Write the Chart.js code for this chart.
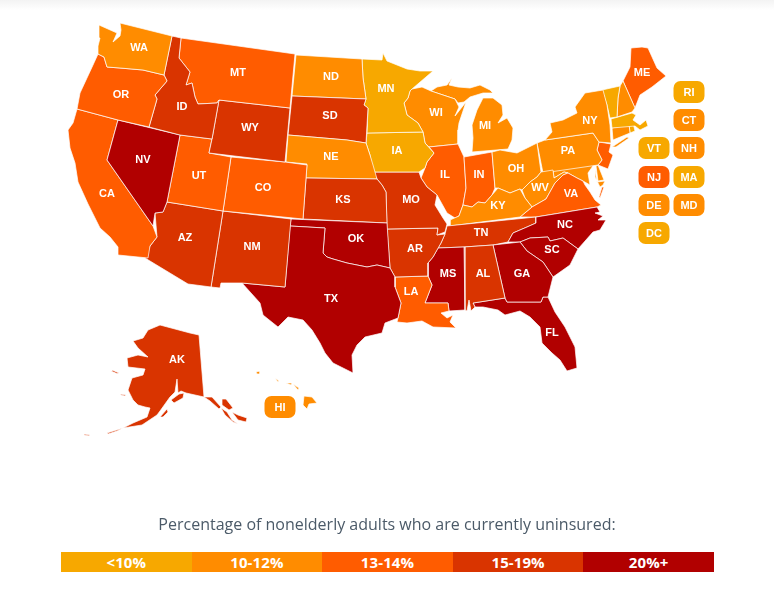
<!DOCTYPE html>
<html>
<head>
<meta charset="utf-8">
<title>Uninsured nonelderly adults</title>
<script src="https://cdn.jsdelivr.net/npm/chart.js@4"></script>
<style>
    html, body { margin: 0; padding: 0; background: #fff; }
    #page { position: relative; width: 774px; height: 592px; overflow: hidden; }
    #shade { position: absolute; left: 0; top: 0; width: 774px; height: 10px; background: linear-gradient(#f3f3f3, #fff); }
    #map { position: absolute; left: 0; top: 0; }
    #heading { position: absolute; left: 0; width: 774px; top: 513px; text-align: center; font: 16px "Open Sans", sans-serif; color: #4b5a68; }
    #legend { position: absolute; left: 61px; top: 552px; width: 653px; height: 20px; display: flex; }
    #legend div { flex: 1; text-align: center; color: #fff; font: bold 15px/20px "Open Sans", sans-serif; letter-spacing: 0.1px; }
</style>
</head>
<body>
<div id="page">
    <div id="shade"></div>
    <canvas id="map" width="774" height="592"></canvas>
    <div id="heading">Percentage of nonelderly adults who are currently uninsured:</div>
    <div id="legend"></div>
</div>
<script>
/* tiers */
const tierLabels = ['<10%', '10-12%', '13-14%', '15-19%', '20%+'];
const tierColors = ['#f7a800', '#ff8c00', '#ff5c00', '#d93400', '#b10000'];
const tier0 = ['MN', 'IA', 'VT', 'MA', 'RI', 'DC'];
const tier1 = ['WA', 'ND', 'NE', 'WI', 'MI', 'OH', 'KY', 'WV', 'PA', 'NY', 'CT', 'NH', 'DE', 'MD', 'HI'];
const tier2 = ['OR', 'CA', 'MT', 'UT', 'CO', 'LA', 'IL', 'IN', 'VA', 'ME', 'NJ'];
const tier3 = ['ID', 'WY', 'SD', 'KS', 'AZ', 'NM', 'MO', 'AR', 'TN', 'AL', 'AK'];
const tier4 = ['NV', 'OK', 'TX', 'MS', 'GA', 'SC', 'NC', 'FL'];
const tiers = [tier0, tier1, tier2, tier3, tier4];

/* state outlines */
const WA = [[99,25],[108,29],[117,33],[113,42],[120,36],[121,30],[120,23],[172,36],[164,75],[143,70],[120,68],[107,67],[104,57],[98,54],[98,46],[100,38]];
const OR = [[98,54],[104,57],[107,67],[120,68],[143,70],[164,75],[167,81],[155,95],[157,99],[149,127],[118,120],[77,109],[80,93],[93,65]];
const ID = [[172,36],[181,38],[179,58],[190,72],[186,85],[192,83],[195,97],[198,104],[217,103],[219,100],[212,139],[180,135],[149,127],[157,99],[155,95],[167,81],[164,75]];
const MT = [[181,38],[295,54],[290,108],[219,100],[217,103],[198,104],[195,97],[192,83],[186,85],[190,72],[179,58]];
const WY = [[219,100],[290,108],[285,162],[209,153],[212,139]];
const NV = [[118,120],[180,135],[167,202],[163,212],[155,213],[153,226],[107,160]];
const CA = [[77,109],[118,120],[107,160],[153,226],[157,237],[150,246],[148,258],[118,255],[118,247],[110,237],[100,228],[88,204],[78,182],[75,163],[70,148],[68,130],[73,123]];
const UT = [[180,135],[212,139],[209,153],[231,157],[223,211],[167,202]];
const CO = [[231,157],[285,162],[307,165],[303,219],[223,211]];
const AZ = [[167,202],[223,211],[211,287],[188,284],[145,258],[148,250],[150,246],[157,237],[155,213],[163,212]];
const NM = [[223,211],[291,219],[285,287],[242,283],[221,283],[220,288],[211,287]];
const TX = [[290,226],[325,228],[323,253],[327,257],[333,259],[340,261],[347,263],[357,265],[367,267],[377,265],[390,268],[395,277],[395,287],[401,303],[398,318],[385,323],[382,333],[365,337],[357,345],[352,355],[353,373],[333,363],[325,353],[320,343],[312,330],[303,320],[288,317],[278,327],[263,315],[260,303],[242,283],[285,287]];
const OK = [[291,219],[387,223],[390,268],[377,265],[367,267],[357,265],[347,263],[340,261],[333,259],[327,257],[323,253],[325,228],[290,226]];
const KS = [[306,178],[377,179],[382,185],[386,192],[387,223],[303,219]];
const NE = [[286,162],[288,135],[347,140],[366,143],[370,155],[373,165],[377,179],[306,178],[307,164]];
const SD = [[292,96],[366,99],[364,105],[368,108],[366,143],[347,140],[288,135]];
const ND = [[296,55],[362,59],[363,78],[366,99],[292,96]];
const MN = [[362,59],[382,60],[383,53],[387,61],[407,69],[420,71],[433,71],[412,89],[410,91],[408,98],[404,103],[407,115],[418,123],[423,132],[367,133],[368,108],[364,105],[366,99],[363,78]];
const IA = [[367,133],[423,132],[425,143],[434,153],[427,162],[425,168],[419,172],[373,172],[370,155],[366,143]];
const MO = [[373,172],[419,172],[421,178],[427,187],[437,195],[435,205],[443,218],[447,224],[445,232],[437,235],[438,228],[387,229],[386,192],[382,185],[377,179]];
const AR = [[387,229],[438,228],[437,235],[445,234],[441,243],[433,257],[428,263],[428,276],[395,277],[390,268]];
const LA = [[395,277],[428,276],[432,285],[425,303],[448,303],[449,311],[441,313],[447,318],[453,315],[450,322],[456,328],[433,327],[422,321],[407,323],[397,322],[398,318],[401,303],[395,287]];
const MS = [[438,248],[464,247],[465,310],[449,311],[448,303],[425,303],[432,285],[428,276],[428,263],[433,257]];
const AL = [[464,247],[493,245],[505,298],[473,303],[475,307],[471,311],[469,300],[467,311],[465,310]];
const GA = [[493,245],[520,242],[527,251],[543,262],[553,277],[548,297],[543,297],[541,302],[507,302],[505,298]];
const FL = [[473,303],[505,298],[507,302],[541,302],[543,297],[548,297],[555,312],[565,327],[575,347],[577,368],[567,371],[560,360],[552,353],[542,343],[540,327],[530,317],[520,311],[505,315],[498,310],[483,307],[475,307]];
const SC = [[520,242],[530,238],[548,237],[550,241],[563,238],[578,249],[570,265],[553,277],[543,262],[527,251]];
const NC = [[536,217],[597,207],[600,212],[595,213],[603,216],[598,220],[606,220],[600,230],[593,232],[578,249],[563,238],[550,241],[548,237],[530,238],[520,242],[508,242],[513,233],[527,227],[536,223]];
const TN = [[447,226],[536,217],[536,223],[527,227],[513,233],[508,242],[493,245],[464,247],[438,248],[441,243],[445,234]];
const KY = [[450,226],[520,217],[532,207],[525,198],[520,189],[510,193],[498,188],[492,195],[485,203],[478,202],[472,207],[463,205],[459,216],[450,220]];
const VA = [[520,217],[532,207],[546,199],[555,183],[563,175],[568,173],[577,178],[583,181],[585,185],[590,192],[595,200],[601,205],[597,207],[536,217]];
const VA_SHORE = [[602,187],[604,187],[600,198],[599,197]];
const WV = [[522,190],[530,182],[537,177],[541,172],[553,170],[554,178],[564,172],[568,173],[563,175],[555,183],[546,199],[532,207],[525,198]];
const OH = [[492,152],[500,150],[517,153],[537,143],[541,172],[537,177],[530,182],[522,190],[520,189],[510,193],[498,188],[495,188]];
const IN = [[464,157],[492,152],[495,188],[492,195],[485,203],[478,202],[472,207],[463,205],[466,188]];
const IL = [[429,147],[458,144],[464,157],[466,188],[463,205],[459,216],[455,218],[447,213],[437,195],[427,187],[421,178],[425,168],[427,162],[434,153]];
const WI = [[412,89],[422,87],[431,91],[455,99],[459,107],[455,116],[466,102],[459,123],[458,130],[458,144],[429,147],[425,143],[423,132],[418,123],[407,115],[404,103],[408,98],[410,91]];
const MI_UP = [[431,91],[437,87],[447,85],[452,78],[449,85],[458,87],[470,88],[480,85],[490,90],[493,93],[483,93],[470,97],[464,102],[458,103],[455,99]];
const MI_LP = [[472,152],[473,138],[472,125],[477,110],[483,98],[493,98],[502,105],[503,115],[498,123],[507,118],[513,128],[512,140],[508,149]];
const NY = [[545,140],[552,132],[550,123],[563,120],[577,113],[575,107],[585,93],[603,90],[607,105],[610,125],[611,143],[599,142],[593,133]];
const NY_ISLAND = [[612,147],[627,137],[629,138],[616,147]];
const PA = [[537,143],[545,140],[593,133],[599,142],[597,150],[602,160],[598,165],[543,173]];
const NJ = [[599,142],[611,144],[609,152],[613,155],[608,169],[603,167],[598,165],[602,160],[597,150]];
const MD = [[553,170],[595,163],[588,173],[590,185],[583,181],[577,178],[568,173],[564,172],[554,178]];
const MD_SHORE = [[595,170],[597,182],[605,181],[603,185],[600,187],[595,177]];
const DE = [[596,166],[598,165],[604,180],[598,181]];
const VT = [[602,90],[620,86],[618,98],[617,117],[610,118],[607,105]];
const NH = [[620,86],[623,81],[635,108],[632,112],[617,117],[618,98]];
const ME = [[623,81],[630,67],[631,48],[642,47],[648,48],[657,68],[666,76],[652,87],[640,95],[635,108]];
const MA = [[611,119],[632,113],[636,115],[633,120],[640,125],[646,120],[648,126],[640,130],[635,126],[612,128]];
const CT = [[612,128],[629,124],[630,133],[613,140]];
const RI = [[629,124],[633,123],[635,131],[630,133]];
const AK = [[160,325],[190,333],[199,335],[204,397],[186,393],[181,391],[178,393],[177,379],[175,392],[170,397],[165,404],[160,411],[157,415],[142,425],[123,428],[133,423],[147,417],[150,408],[145,407],[138,405],[133,400],[128,390],[132,378],[143,375],[145,369],[128,367],[127,358],[138,355],[148,357],[138,348],[133,341],[143,338],[148,330]];
const AK_KENAI = [[171,400],[179,394],[184,393],[183,398],[174,403]];
const AK_KODIAK = [[160,417],[167,409],[168,412],[163,417]];
const AK_NUNIVAK = [[112,370],[119,373],[118,374],[111,371]];
const AK_MATTHEW = [[120,394],[126,395],[125,396],[121,395]];
const AK_ALEUT1 = [[107,433],[123,428],[117,431],[108,434]];
const AK_ALEUT2 = [[84,434],[90,435],[90,436],[84,435]];
const AK_PAN1 = [[204,397],[212,397],[221,407],[219,409],[210,401]];
const AK_PAN2 = [[222,399],[226,399],[233,408],[229,410],[222,405]];
const AK_PAN3 = [[221,408],[227,412],[232,420],[238,424],[233,422],[225,415]];
const AK_PAN4 = [[232,412],[238,415],[247,418],[246,422],[238,420]];
const HI1 = [[256,372],[260,371],[260,374],[257,374]];
const HI2 = [[275,378],[279,381],[278,382]];
const HI3 = [[286,383],[292,383],[291,385]];
const HI4 = [[293,384],[299,388],[298,390]];
const HI5 = [[304,396],[312,397],[317,403],[309,404],[307,409],[303,405]];

const shapes = {
    WA: [WA], OR: [OR], ID: [ID], MT: [MT], WY: [WY], NV: [NV], CA: [CA], UT: [UT], CO: [CO], AZ: [AZ], NM: [NM],
    TX: [TX], OK: [OK], KS: [KS], NE: [NE], SD: [SD], ND: [ND], MN: [MN], IA: [IA], MO: [MO], AR: [AR], LA: [LA],
    MS: [MS], AL: [AL], GA: [GA], FL: [FL], SC: [SC], NC: [NC], TN: [TN], KY: [KY], VA: [VA, VA_SHORE], WV: [WV],
    OH: [OH], IN: [IN], IL: [IL], WI: [WI], MI: [MI_UP, MI_LP], NY: [NY, NY_ISLAND], PA: [PA], NJ: [NJ],
    MD: [MD, MD_SHORE], DE: [DE], VT: [VT], NH: [NH], ME: [ME], MA: [MA], CT: [CT], RI: [RI],
    AK: [AK, AK_KENAI, AK_KODIAK, AK_NUNIVAK, AK_MATTHEW, AK_ALEUT1, AK_ALEUT2, AK_PAN1, AK_PAN2, AK_PAN3, AK_PAN4],
    HI: [HI1, HI2, HI3, HI4, HI5]
};

/* labels on the map */
const labelNames = ['WA','OR','CA','NV','ID','MT','WY','UT','CO','AZ','NM','ND','SD','NE','KS','OK','TX','MN','IA','MO','AR','LA','WI','IL','MS','AL','TN','KY','IN','MI','OH','WV','PA','NY','ME','VA','NC','SC','GA','FL','AK'];
const labelX = [139,121,107,143,182,238,250,199,263,185,252,331,330,331,343,356,331,386,397,411,415,411,436,445,448,483,481,498,479,485,516,540,568,590,642,571,565,552,522,552,177];
const labelY = [48,95,194,160,107,73,128,176,188,238,247,77,116,157,200,239,299,89,151,200,249,292,113,175,274,274,233,206,175,126,169,188,151,121,73,194,225,250,274,333,360];

/* small states get a tag beside the map */
const tagNames = ['RI','CT','VT','NH','NJ','MA','DE','MD','DC','HI'];
const tagX = [689,689,654,689,654,689,654,689,654,280];
const tagY = [92,120,148,148,177,177,205,205,233,407];

let tierColor = (code) => tierColors[tiers.findIndex(t => t.includes(code))];

let buildDatasets = () => {
    let datasets = [];
    Object.keys(shapes).forEach(code => {
        shapes[code].forEach(poly => {
            let pts = poly.map(p => ({ x: p[0], y: p[1] }));
            pts.push(pts[0]);
            datasets.push({
                label: code,
                data: pts,
                showLine: true,
                fill: 'shape',
                tension: 0,
                backgroundColor: tierColor(code),
                borderColor: 'rgba(255,255,255,0.7)',
                borderWidth: 1,
                pointRadius: 0,
                clip: false
            });
        });
    });
    return datasets;
};

const mapLabels = {
    id: 'mapLabels',
    afterDatasetsDraw(chart) {
        const ctx = chart.ctx;
        const sx = chart.scales.x;
        const sy = chart.scales.y;
        ctx.save();
        ctx.textAlign = 'center';
        ctx.textBaseline = 'middle';
        tagNames.forEach((name, i) => {
            let x = sx.getPixelForValue(tagX[i]);
            let y = sy.getPixelForValue(tagY[i]);
            ctx.beginPath();
            ctx.roundRect(x - 15.5, y - 11, 31, 22, 7);
            ctx.fillStyle = tierColor(name);
            ctx.fill();
            ctx.fillStyle = '#fff';
            ctx.font = 'bold 11px "Liberation Sans", Arial, sans-serif';
            ctx.fillText(name, x, y + 0.5);
        });
        ctx.fillStyle = '#fff';
        ctx.font = 'bold 11px "Liberation Sans", Arial, sans-serif';
        labelNames.forEach((name, i) => {
            ctx.fillText(name, sx.getPixelForValue(labelX[i]), sy.getPixelForValue(labelY[i]));
        });
        ctx.restore();
    }
};

const chart = new Chart(document.getElementById('map'), {
    type: 'scatter',
    data: { datasets: buildDatasets() },
    plugins: [mapLabels],
    options: {
        responsive: false,
        animation: false,
        layout: { padding: 0 },
        plugins: { legend: { display: false }, title: { display: false }, tooltip: { enabled: false } },
        scales: {
            x: { type: 'linear', display: false, min: 0, max: 774 },
            y: { type: 'linear', display: false, min: 0, max: 592, reverse: true }
        }
    }
});

tierLabels.forEach((label, i) => {
    let d = document.createElement('div');
    d.textContent = label;
    d.style.background = tierColors[i];
    document.getElementById('legend').appendChild(d);
});
</script>
</body>
</html>
